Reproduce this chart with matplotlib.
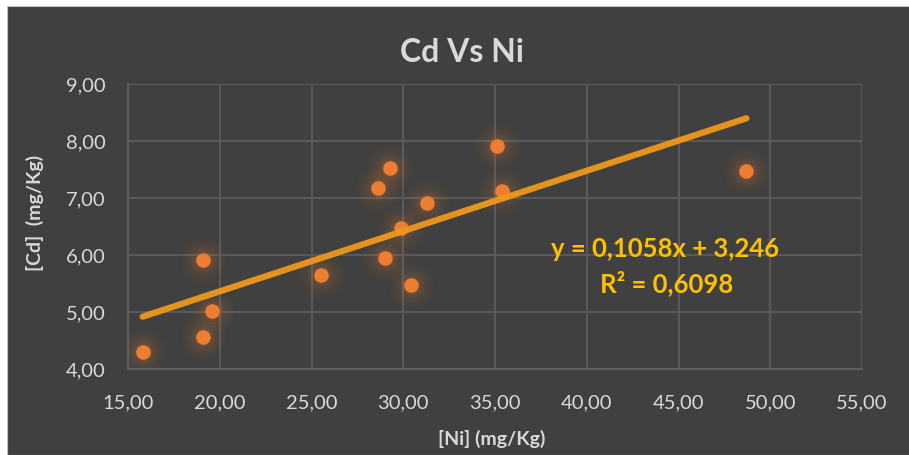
import matplotlib
matplotlib.use("Agg")
from matplotlib import pyplot as plt
from matplotlib.patches import Rectangle
import numpy as np

# data
ni = [15.8, 19.1, 19.6, 19.1, 25.5, 28.6, 29.3, 31.3, 29.9, 29.0, 30.4, 35.1, 35.4, 48.7]
cd = [4.29, 5.91, 5.02, 4.56, 5.65, 7.18, 7.53, 6.92, 6.48, 5.94, 5.47, 7.91, 7.12, 7.47]
slope = 0.1058
intercept = 3.246
r2 = 0.6098
xticks = [15, 20, 25, 30, 35, 40, 45, 50, 55]
yticks = [4, 5, 6, 7, 8, 9]

bg = '#404040'
grid = '#595959'
txt = '#D9D9D9'
pt_col = '#ED7D31'
line_col = '#EE981C'
eq_col = '#FFC000'

plt.rcParams['font.family'] = ['Lato', 'DejaVu Sans']

fig = plt.figure(figsize=(9.09, 4.55), dpi=100)
fig.patch.set_facecolor('white')
fig.patches.append(Rectangle((7 / 909, 0), 1, 1 - 6 / 455, transform=fig.transFigure,
                             facecolor=bg, edgecolor='#BFBFBF', linewidth=0.8, zorder=-10))

ax = fig.add_axes([128 / 909, 1 - 369 / 455, 734 / 909, 285 / 455])
ax.set_zorder(1)
ax.set_facecolor(bg)
ax.set_xlim(15, 55)
ax.set_ylim(4, 9)
ax.set_xticks(xticks)
ax.set_yticks(yticks)
ax.set_xticklabels([f'{v:.2f}'.replace('.', ',') for v in xticks])
ax.set_yticklabels([f'{v:.2f}'.replace('.', ',') for v in yticks])
ax.tick_params(length=0, labelsize=14.5, colors=txt)
ax.tick_params(axis='x', pad=18)
ax.tick_params(axis='y', pad=16)
ax.grid(True, color=grid, linewidth=1.5)
ax.set_axisbelow(True)
for s in ax.spines.values():
    s.set_visible(False)
ax.spines['bottom'].set_visible(True)
ax.spines['bottom'].set_color('#5E5E5E')
ax.spines['bottom'].set_linewidth(1.5)
ax.spines['left'].set_visible(True)
ax.spines['left'].set_color('#5E5E5E')
ax.spines['left'].set_linewidth(1.5)

# glow around points
for size, a in [(1100, 0.025), (800, 0.035), (550, 0.045), (350, 0.06), (200, 0.08)]:
    ax.scatter(ni, cd, s=size, color=pt_col, alpha=a, linewidths=0, zorder=2)
ax.scatter(ni, cd, s=110, color=pt_col, linewidths=0, zorder=3)

# trendline
xs = np.array([min(ni), max(ni)])
ax.plot(xs, slope * xs + intercept, color=line_col, linewidth=4.5,
        solid_capstyle='round', alpha=0.95, zorder=4)

eq = f'y = {slope:.4f}x + {intercept:.3f}'.replace('.', ',')
ax.text(0.732, 0.42, eq, transform=ax.transAxes, ha='center', va='center',
        fontsize=18.5, fontweight='bold', color=eq_col, zorder=5)
ax.text(0.734, 0.30, f'R² = {r2:.4f}'.replace('.', ','), transform=ax.transAxes,
        ha='center', va='center', fontsize=18.5, fontweight='bold', color=eq_col, zorder=5)

ax.set_xlabel('[Ni] (mg/Kg)', fontsize=14, fontweight='bold', color=txt)
ax.xaxis.set_label_coords(0.496, -0.215)
ax.set_ylabel('[Cd]  (mg/Kg)', fontsize=14, fontweight='bold', color=txt)
ax.yaxis.set_label_coords(-0.115, 0.547)

fig.text(462 / 909, 1 - 52 / 455, 'Cd Vs Ni', ha='center', va='center',
         fontsize=23, fontweight='bold', color=txt)

plt.savefig('out.png', dpi=100, facecolor=fig.get_facecolor())
plt.close()
